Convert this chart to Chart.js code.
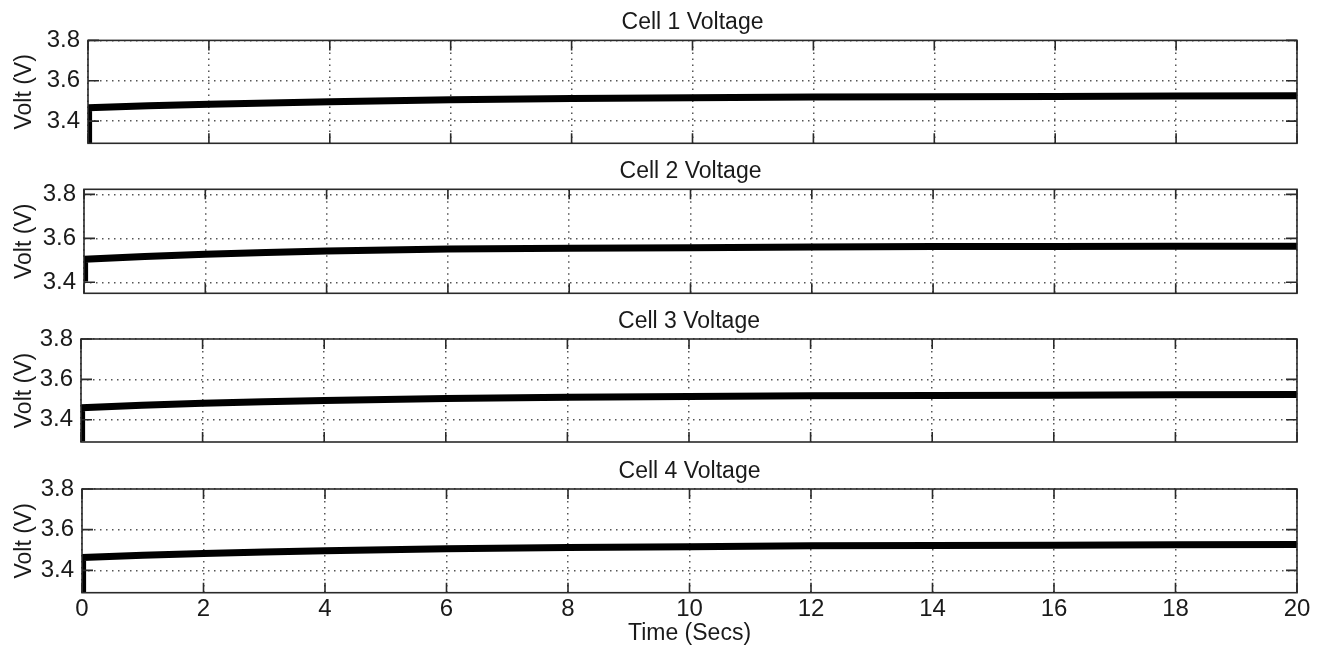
<!DOCTYPE html>
<html>
<head>
<meta charset="utf-8">
<script src="https://cdn.jsdelivr.net/npm/chart.js@4.4.1/dist/chart.umd.min.js"></script>
<style>
  body { margin: 0; background: #fff; }
  .panel { position: absolute; left: 0; }
</style>
</head>
<body>
<canvas id="c1" class="panel" width="1320" height="150" style="top:0px"></canvas>
<canvas id="c2" class="panel" width="1320" height="150" style="top:150px"></canvas>
<canvas id="c3" class="panel" width="1320" height="150" style="top:300px"></canvas>
<canvas id="c4" class="panel" width="1320" height="199" style="top:450px"></canvas>
<script>
// Data
const times = [0, 0.01, 1, 2, 3, 4, 5, 6, 8, 10, 12, 14, 16, 18, 20];
const cell1 = [3.30, 3.466, 3.476, 3.484, 3.490, 3.496, 3.501, 3.506, 3.512, 3.516, 3.520, 3.521, 3.522, 3.525, 3.526];
const cell2 = [3.42, 3.505, 3.517, 3.528, 3.536, 3.542, 3.547, 3.551, 3.555, 3.557, 3.561, 3.563, 3.563, 3.564, 3.564];
const cell3 = [3.31, 3.460, 3.472, 3.482, 3.489, 3.495, 3.500, 3.505, 3.511, 3.515, 3.519, 3.520, 3.521, 3.524, 3.525];
const cell4 = [3.31, 3.463, 3.474, 3.483, 3.490, 3.496, 3.501, 3.506, 3.512, 3.516, 3.521, 3.522, 3.523, 3.526, 3.527];
const titles = ['Cell 1 Voltage', 'Cell 2 Voltage', 'Cell 3 Voltage', 'Cell 4 Voltage'];
const yMin = [3.29, 3.35, 3.29, 3.29];
const yMax = [3.80, 3.823, 3.80, 3.80];
const yTicks = [3.4, 3.6, 3.8];
const xTicks = [0, 2, 4, 6, 8, 10, 12, 14, 16, 18, 20];

// Where each plot box sits inside its canvas
const boxes = [
    { id: 'c1', left: 88, top: 40.4, bottom: 143.3, height: 150 },
    { id: 'c2', left: 84, top: 39.3, bottom: 143.3, height: 150 },
    { id: 'c3', left: 81, top: 39.0, bottom: 142.0, height: 150 },
    { id: 'c4', left: 82, top: 39.0, bottom: 142.7, height: 199 }
];
const plotRight = 1297;
const titleSize = 23;

Chart.defaults.font.family = "'Liberation Sans', Arial, sans-serif";
Chart.defaults.color = '#1a1a1a';

// Box round the plot with short inward tick marks
const framePlugin = {
    id: 'frame',
    afterDatasetsDraw(chart) {
        const { ctx, chartArea: a, scales: { x, y } } = chart;
        ctx.save();
        ctx.strokeStyle = '#2a2a2a';
        ctx.lineWidth = 1.6;
        ctx.strokeRect(a.left, a.top, a.right - a.left, a.bottom - a.top);
        ctx.beginPath();
        xTicks.forEach(v => {
            const px = x.getPixelForValue(v);
            ctx.moveTo(px, a.bottom); ctx.lineTo(px, a.bottom - 10);
            ctx.moveTo(px, a.top); ctx.lineTo(px, a.top + 10);
        });
        yTicks.forEach(v => {
            const py = y.getPixelForValue(v);
            if (py < a.top - 0.5) return;
            ctx.moveTo(a.left, py); ctx.lineTo(a.left + 11, py);
            ctx.moveTo(a.right, py); ctx.lineTo(a.right - 11, py);
        });
        ctx.stroke();
        ctx.restore();
    }
};

const series = [cell1, cell2, cell3, cell4];

series.forEach((vals, i) => {
    const b = boxes[i];
    const last = i === series.length - 1;
    const titlePad = (b.top - titleSize * 1.2) / 2;

    new Chart(document.getElementById(b.id), {
        type: 'line',
        data: {
            datasets: [{
                data: times.map((t, k) => ({ x: t, y: vals[k] })),
                borderColor: '#000',
                borderWidth: 7,
                pointRadius: 0,
                tension: 0
            }]
        },
        options: {
            responsive: false,
            animation: false,
            layout: { padding: { left: 0, right: 1320 - plotRight, top: 0, bottom: 0 } },
            plugins: {
                legend: { display: false },
                tooltip: { enabled: false },
                title: {
                    display: true,
                    fullSize: false,
                    text: titles[i],
                    color: '#1a1a1a',
                    font: { size: titleSize, weight: 'normal' },
                    padding: { top: titlePad + 2, bottom: titlePad - 2 }
                }
            },
            scales: {
                x: {
                    type: 'linear',
                    min: 0,
                    max: 20,
                    afterBuildTicks: s => { s.ticks = xTicks.map(v => ({ value: v })); },
                    afterFit: s => {
                        s.height = b.height - b.bottom;
                        s.paddingLeft = 0; s.paddingRight = 0;
                    },
                    grid: { color: '#555', lineWidth: 1.5, drawTicks: false },
                    border: { display: false, dash: [1.5, 4.5] },
                    ticks: { display: last, font: { size: 24 }, padding: 2, color: '#1a1a1a' },
                    title: {
                        display: last,
                        text: 'Time (Secs)',
                        font: { size: 23 },
                        color: '#1a1a1a',
                        padding: { top: 0, bottom: 2 }
                    }
                },
                y: {
                    min: yMin[i],
                    max: yMax[i],
                    afterBuildTicks: s => { s.ticks = yTicks.map(v => ({ value: v })); },
                    afterFit: s => {
                        s.width = b.left;
                        s.paddingTop = 0; s.paddingBottom = 0;
                    },
                    grid: { color: '#555', lineWidth: 1.5, drawTicks: false },
                    border: { display: false, dash: [1.5, 4.5] },
                    ticks: {
                        font: { size: 24 },
                        padding: 8,
                        color: '#1a1a1a',
                        callback: v => v.toFixed(1)
                    },
                    title: {
                        display: true,
                        text: 'Volt (V)',
                        font: { size: 23 },
                        color: '#1a1a1a',
                        padding: { top: 11, bottom: 0 }
                    }
                }
            }
        },
        plugins: [framePlugin]
    });
});
</script>
</body>
</html>
